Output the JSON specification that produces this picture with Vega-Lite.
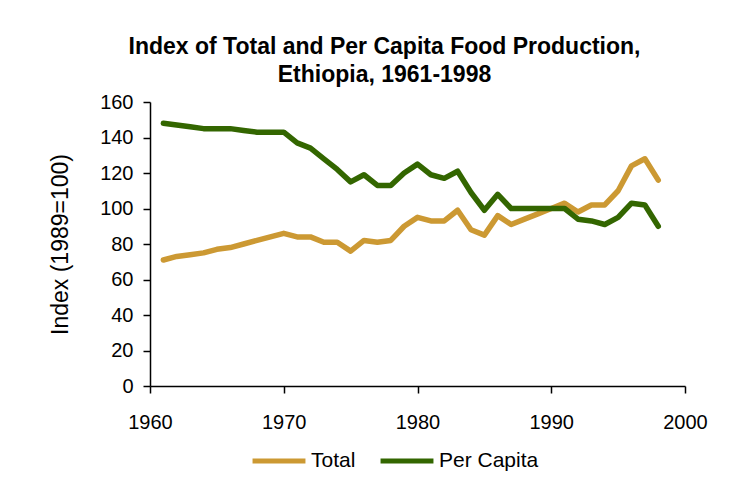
{
  "$schema": "https://vega.github.io/schema/vega-lite/v6.json",
  "width": 535,
  "height": 284,
  "autosize": {"type": "none"},
  "padding": {"left": 150, "top": 102, "right": 60, "bottom": 95},
  "background": "white",
  "title": {
    "text": ["Index of Total and Per Capita Food Production,", "Ethiopia, 1961-1998"],
    "font": "Liberation Sans",
    "fontSize": 23,
    "fontWeight": "bold",
    "color": "black",
    "lineHeight": 28,
    "anchor": "middle",
    "dx": -33,
    "offset": 5
  },
  "data": {
    "values": [
      {"year": 1961, "series": "Total", "value": 71},
      {"year": 1962, "series": "Total", "value": 73},
      {"year": 1963, "series": "Total", "value": 74},
      {"year": 1964, "series": "Total", "value": 75},
      {"year": 1965, "series": "Total", "value": 77},
      {"year": 1966, "series": "Total", "value": 78},
      {"year": 1967, "series": "Total", "value": 80},
      {"year": 1968, "series": "Total", "value": 82},
      {"year": 1969, "series": "Total", "value": 84},
      {"year": 1970, "series": "Total", "value": 86},
      {"year": 1971, "series": "Total", "value": 84},
      {"year": 1972, "series": "Total", "value": 84},
      {"year": 1973, "series": "Total", "value": 81},
      {"year": 1974, "series": "Total", "value": 81},
      {"year": 1975, "series": "Total", "value": 76},
      {"year": 1976, "series": "Total", "value": 82},
      {"year": 1977, "series": "Total", "value": 81},
      {"year": 1978, "series": "Total", "value": 82},
      {"year": 1979, "series": "Total", "value": 90},
      {"year": 1980, "series": "Total", "value": 95},
      {"year": 1981, "series": "Total", "value": 93},
      {"year": 1982, "series": "Total", "value": 93},
      {"year": 1983, "series": "Total", "value": 99},
      {"year": 1984, "series": "Total", "value": 88},
      {"year": 1985, "series": "Total", "value": 85},
      {"year": 1986, "series": "Total", "value": 96},
      {"year": 1987, "series": "Total", "value": 91},
      {"year": 1988, "series": "Total", "value": 94},
      {"year": 1989, "series": "Total", "value": 97},
      {"year": 1990, "series": "Total", "value": 100},
      {"year": 1991, "series": "Total", "value": 103},
      {"year": 1992, "series": "Total", "value": 98},
      {"year": 1993, "series": "Total", "value": 102},
      {"year": 1994, "series": "Total", "value": 102},
      {"year": 1995, "series": "Total", "value": 110},
      {"year": 1996, "series": "Total", "value": 124},
      {"year": 1997, "series": "Total", "value": 128},
      {"year": 1998, "series": "Total", "value": 116},
      {"year": 1961, "series": "Per Capita", "value": 148},
      {"year": 1962, "series": "Per Capita", "value": 147},
      {"year": 1963, "series": "Per Capita", "value": 146},
      {"year": 1964, "series": "Per Capita", "value": 145},
      {"year": 1965, "series": "Per Capita", "value": 145},
      {"year": 1966, "series": "Per Capita", "value": 145},
      {"year": 1967, "series": "Per Capita", "value": 144},
      {"year": 1968, "series": "Per Capita", "value": 143},
      {"year": 1969, "series": "Per Capita", "value": 143},
      {"year": 1970, "series": "Per Capita", "value": 143},
      {"year": 1971, "series": "Per Capita", "value": 137},
      {"year": 1972, "series": "Per Capita", "value": 134},
      {"year": 1973, "series": "Per Capita", "value": 128},
      {"year": 1974, "series": "Per Capita", "value": 122},
      {"year": 1975, "series": "Per Capita", "value": 115},
      {"year": 1976, "series": "Per Capita", "value": 119},
      {"year": 1977, "series": "Per Capita", "value": 113},
      {"year": 1978, "series": "Per Capita", "value": 113},
      {"year": 1979, "series": "Per Capita", "value": 120},
      {"year": 1980, "series": "Per Capita", "value": 125},
      {"year": 1981, "series": "Per Capita", "value": 119},
      {"year": 1982, "series": "Per Capita", "value": 117},
      {"year": 1983, "series": "Per Capita", "value": 121},
      {"year": 1984, "series": "Per Capita", "value": 109},
      {"year": 1985, "series": "Per Capita", "value": 99},
      {"year": 1986, "series": "Per Capita", "value": 108},
      {"year": 1987, "series": "Per Capita", "value": 100},
      {"year": 1988, "series": "Per Capita", "value": 100},
      {"year": 1989, "series": "Per Capita", "value": 100},
      {"year": 1990, "series": "Per Capita", "value": 100},
      {"year": 1991, "series": "Per Capita", "value": 100},
      {"year": 1992, "series": "Per Capita", "value": 94},
      {"year": 1993, "series": "Per Capita", "value": 93},
      {"year": 1994, "series": "Per Capita", "value": 91},
      {"year": 1995, "series": "Per Capita", "value": 95},
      {"year": 1996, "series": "Per Capita", "value": 103},
      {"year": 1997, "series": "Per Capita", "value": 102},
      {"year": 1998, "series": "Per Capita", "value": 90}
    ]
  },
  "mark": {"type": "line", "strokeWidth": 5.5, "strokeJoin": "round", "strokeCap": "round"},
  "encoding": {
    "x": {
      "field": "year",
      "type": "quantitative",
      "scale": {"domain": [1960, 2000], "nice": false, "zero": false},
      "axis": {"values": [1960, 1970, 1980, 1990, 2000], "format": "d", "title": null, "grid": false, "tickSize": 7, "labelPadding": 19, "labelFlush": false}
    },
    "y": {
      "field": "value",
      "type": "quantitative",
      "scale": {"domain": [0, 160], "nice": false},
      "axis": {"values": [0, 20, 40, 60, 80, 100, 120, 140, 160], "title": "Index (1989=100)", "grid": false, "tickSize": 7, "labelPadding": 10, "titlePadding": 27, "labelFlush": false}
    },
    "color": {
      "field": "series",
      "type": "nominal",
      "scale": {"domain": ["Total", "Per Capita"], "range": ["#CC9933", "#336600"]},
      "legend": {"title": null, "orient": "none", "legendX": 100, "legendY": 330, "direction": "horizontal", "symbolType": "stroke", "symbolSize": 2800, "symbolStrokeWidth": 5, "columnPadding": 14, "labelOffset": 3}
    }
  },
  "config": {
    "view": {"stroke": null},
    "font": "Liberation Sans",
    "axis": {
      "domainColor": "black",
      "tickColor": "black",
      "domainWidth": 1.5,
      "tickWidth": 1.5,
      "labelColor": "black",
      "titleColor": "black",
      "labelFont": "Liberation Sans",
      "titleFont": "Liberation Sans",
      "labelFontSize": 20,
      "titleFontSize": 23,
      "titleFontWeight": "normal"
    },
    "legend": {
      "labelFont": "Liberation Sans",
      "labelFontSize": 21,
      "labelColor": "black"
    }
  }
}
